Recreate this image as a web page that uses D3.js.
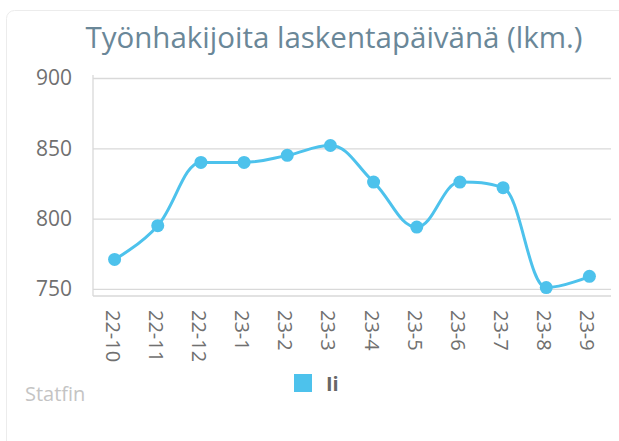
<!DOCTYPE html>
<html>
<head>
<meta charset="utf-8">
<script src="https://cdn.jsdelivr.net/npm/d3@7"></script>
<style>
  body { margin: 0; background: #fff; font-family: "Open Sans", sans-serif; }
</style>
</head>
<body>
<div id="chart"></div>
<script>
// ---- data ----
const months = ["22-10", "22-11", "22-12", "23-1", "23-2", "23-3", "23-4", "23-5", "23-6", "23-7", "23-8", "23-9"];
const values = [771, 795, 840, 840, 845, 852, 826, 794, 826, 822, 751, 759];
const yTicks = [750, 800, 850, 900];
const seriesName = "Ii";

const W = 619, H = 441;
const plot = {left: 93, right: 611, top: 78, bottom: 296};
const color = "#4dc2ec";
const font = "Open Sans, sans-serif";

const svg = d3.select("#chart").append("svg")
    .attr("width", W)
    .attr("height", H);

// card frame
svg.append("rect")
    .attr("x", 6.5).attr("y", 10.5)
    .attr("width", W + 10).attr("height", H + 10)
    .attr("rx", 8)
    .attr("fill", "#fff")
    .attr("stroke", "#ececec");

// ---- scales ----
const x = d3.scaleBand()
    .domain(months)
    .range([plot.left, plot.right])
    .padding(0);

const y = d3.scaleLinear()
    .domain([745, 900])
    .range([plot.bottom, plot.top]);

// ---- grid + y labels ----
const yAxis = svg.append("g")
    .attr("transform", `translate(${plot.left},0)`)
    .call(d3.axisLeft(y).tickValues(yTicks).tickSize(-(plot.right - plot.left)).tickPadding(21));
yAxis.select(".domain").remove();
yAxis.selectAll(".tick line").attr("stroke", "#d9d9d9").attr("stroke-width", 1.3);
yAxis.selectAll(".tick text")
    .attr("fill", "#707070")
    .style("font-family", font)
    .style("font-size", "21px");

// axis lines
svg.append("line")
    .attr("x1", plot.left).attr("x2", plot.left)
    .attr("y1", plot.top - 3).attr("y2", plot.bottom)
    .attr("stroke", "#d9d9d9").attr("stroke-width", 1.3);
svg.append("line")
    .attr("x1", plot.left).attr("x2", plot.right)
    .attr("y1", plot.bottom).attr("y2", plot.bottom)
    .attr("stroke", "#d9d9d9").attr("stroke-width", 1.3);

// ---- x labels (rotated) ----
const xAxis = svg.append("g")
    .attr("transform", `translate(0,${plot.bottom})`)
    .call(d3.axisBottom(x).tickSize(0).tickPadding(0));
xAxis.select(".domain").remove();
xAxis.selectAll(".tick text")
    .attr("transform", "translate(-2,14) rotate(90)")
    .attr("text-anchor", "start")
    .attr("dy", "0.35em")
    .attr("x", 0).attr("y", 0)
    .attr("fill", "#707070")
    .style("font-family", font)
    .style("font-size", "20px");

// ---- spline (highcharts-style smoothing) ----
const pts = values.map((v, i) => [x(months[i]) + x.bandwidth() / 2, y(v)]);

function splinePath(p) {
    const sm = 1.5, den = sm + 1;
    const ctl = p.map((pt, i) => {
        if (i === 0 || i === p.length - 1) return {l: pt, r: pt};
        const [px, py] = pt, [ax, ay] = p[i - 1], [bx, by] = p[i + 1];
        let lx = (sm * px + ax) / den, ly = (sm * py + ay) / den;
        let rx = (sm * px + bx) / den, ry = (sm * py + by) / den;
        const corr = ((ry - ly) * (rx - px)) / (rx - lx) + py - ry;
        ly += corr; ry += corr;
        if (ly > ay && ly > py) { ly = Math.max(ay, py); ry = 2 * py - ly; }
        else if (ly < ay && ly < py) { ly = Math.min(ay, py); ry = 2 * py - ly; }
        if (ry > by && ry > py) { ry = Math.max(by, py); ly = 2 * py - ry; }
        else if (ry < by && ry < py) { ry = Math.min(by, py); ly = 2 * py - ry; }
        return {l: [lx, ly], r: [rx, ry]};
    });
    const path = d3.path();
    path.moveTo(p[0][0], p[0][1]);
    for (let i = 1; i < p.length; i++) {
        const a = ctl[i - 1].r, b = ctl[i].l;
        path.bezierCurveTo(a[0], a[1], b[0], b[1], p[i][0], p[i][1]);
    }
    return path.toString();
}

svg.append("path")
    .attr("fill", "none")
    .attr("stroke", color)
    .attr("stroke-width", 3)
    .attr("d", splinePath(pts));

svg.selectAll("circle.pt")
    .data(values)
    .enter()
    .append("circle")
    .attr("class", "pt")
    .attr("cx", (d, i) => x(months[i]) + x.bandwidth() / 2)
    .attr("cy", d => y(d))
    .attr("r", 6.5)
    .attr("fill", color);

// ---- title ----
svg.append("text")
    .attr("x", 334)
    .attr("y", 48)
    .attr("text-anchor", "middle")
    .attr("fill", "#6a8798")
    .style("font-family", font)
    .style("font-size", "29.5px")
    .text("Työnhakijoita laskentapäivänä (lkm.)");

// ---- legend ----
svg.append("rect")
    .attr("x", 294).attr("y", 374)
    .attr("width", 18).attr("height", 18)
    .attr("fill", color);
svg.append("text")
    .attr("x", 326).attr("y", 391)
    .attr("fill", "#666")
    .style("font-family", font)
    .style("font-size", "20px")
    .style("font-weight", "bold")
    .text(seriesName);

// ---- credits ----
svg.append("text")
    .attr("x", 25).attr("y", 401)
    .attr("fill", "#c4c4c4")
    .style("font-family", font)
    .style("font-size", "20px")
    .text("Statfin");
</script>
</body>
</html>
